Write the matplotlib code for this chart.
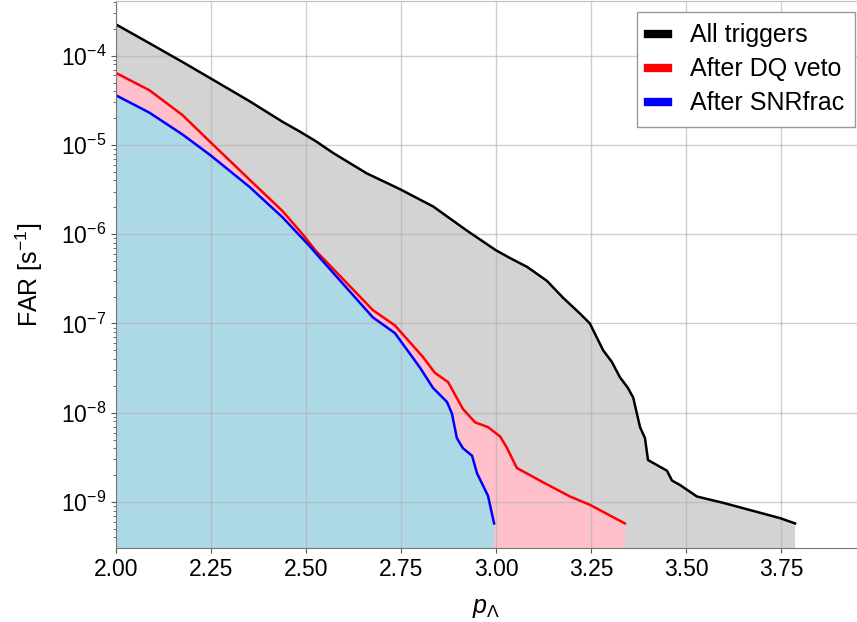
import matplotlib
matplotlib.use("Agg")
import matplotlib.pyplot as plt
from matplotlib.lines import Line2D
from matplotlib.ticker import NullFormatter, FixedLocator, LogLocator

plt.rcParams['font.family'] = ['Liberation Sans', 'DejaVu Sans']
plt.rcParams['mathtext.fontset'] = 'custom'
plt.rcParams['mathtext.rm'] = 'Liberation Sans'
plt.rcParams['mathtext.it'] = 'Liberation Sans:italic'

x_all = [2.0, 2.088, 2.175, 2.248, 2.351, 2.438, 2.484, 2.526, 2.572, 2.66, 2.747,
         2.835, 2.923, 3.0, 3.037, 3.082, 3.134, 3.176, 3.221, 3.247, 3.282,
         3.305, 3.326, 3.347, 3.361, 3.379, 3.392, 3.4, 3.45, 3.463, 3.484,
         3.529, 3.597, 3.747, 3.787]
far_all = [2.24e-4, 1.38e-4, 8.5e-5, 5.6e-5, 3.1e-5, 1.82e-5, 1.41e-5, 1.10e-5,
           8.1e-6, 4.8e-6, 3.2e-6, 2.04e-6, 1.10e-6, 6.6e-7, 5.4e-7, 4.3e-7,
           3.0e-7, 1.95e-7, 1.29e-7, 1.0e-7, 5.0e-8, 3.7e-8, 2.5e-8, 1.9e-8,
           1.48e-8, 6.9e-9, 5.2e-9, 2.95e-9, 2.24e-9, 1.74e-9, 1.55e-9, 1.15e-9,
           9.8e-10, 6.6e-10, 5.75e-10]

x_dq = [2.0, 2.088, 2.175, 2.248, 2.351, 2.438, 2.491, 2.526, 2.676, 2.734,
        2.808, 2.839, 2.874, 2.913, 2.945, 2.979, 3.011, 3.028, 3.055, 3.124,
        3.195, 3.247, 3.339]
far_dq = [6.4e-5, 4.1e-5, 2.16e-5, 1.08e-5, 4.1e-6, 1.82e-6, 1.0e-6, 6.5e-7,
          1.41e-7, 9.5e-8, 4.2e-8, 2.8e-8, 2.2e-8, 1.1e-8, 7.8e-9, 6.9e-9,
          5.4e-9, 4.1e-9, 2.4e-9, 1.66e-9, 1.15e-9, 9.3e-10, 5.75e-10]

x_snr = [2.0, 2.088, 2.175, 2.248, 2.351, 2.438, 2.509, 2.537, 2.676, 2.734,
         2.8, 2.834, 2.871, 2.884, 2.897, 2.913, 2.937, 2.95, 2.979, 2.995]
far_snr = [3.6e-5, 2.3e-5, 1.31e-5, 7.7e-6, 3.4e-6, 1.55e-6, 7.4e-7, 5.4e-7,
           1.17e-7, 7.8e-8, 3.2e-8, 1.9e-8, 1.32e-8, 9.8e-9, 5.2e-9, 4.0e-9,
           3.3e-9, 2.1e-9, 1.17e-9, 5.75e-10]

labels = ["All triggers", "After DQ veto", "After SNRfrac"]
line_colors = ["black", "red", "blue"]
fill_colors = ["lightgrey", "pink", "lightblue"]

y_ticks = [1e-9, 1e-8, 1e-7, 1e-6, 1e-5, 1e-4]
y_ticklabels = [r"$10^{-9}$", r"$10^{-8}$", r"$10^{-7}$", r"$10^{-6}$",
                r"$10^{-5}$", r"$10^{-4}$"]
x_ticks = [2.0, 2.25, 2.5, 2.75, 3.0, 3.25, 3.5, 3.75]
x_ticklabels = ["2.00", "2.25", "2.50", "2.75", "3.00", "3.25", "3.50", "3.75"]

ymin, ymax = 3.05e-10, 4.1e-4

fig = plt.figure(figsize=(8.57, 6.22), dpi=100)
ax = fig.add_axes([116/857, 74/622, (857-116)/857, (621-74)/622])

series = [(x_all, far_all), (x_dq, far_dq), (x_snr, far_snr)]
for (xs, ys), fc in zip(series, fill_colors):
    ax.fill_between(xs, ys, 1e-12, color=fc, linewidth=0)
for (xs, ys), lc in zip(series, line_colors):
    ax.plot(xs, ys, color=lc, lw=1.8)

ax.set_yscale('log')
ax.set_xlim(2.0, 2.0 + (857-116)/380)
ax.set_ylim(ymin, ymax)
ax.set_yticks(y_ticks)
ax.set_yticklabels(y_ticklabels)
ax.yaxis.set_minor_locator(LogLocator(base=10, subs=range(2, 10), numticks=20))
ax.yaxis.set_minor_formatter(NullFormatter())
ax.set_xticks(x_ticks)
ax.set_xticklabels(x_ticklabels)
ax.grid(True, which='major', color='#b0b0b0', alpha=0.6, lw=1)
ax.tick_params(axis='both', labelsize=16.5, color='#555555')
ax.tick_params(which='minor', color='#555555')
for s in ['left', 'bottom']:
    ax.spines[s].set_color('#777777')
ax.spines['top'].set_color('#bbbbbb')
ax.spines['right'].set_visible(False)

ax.set_xlabel(r"$p_{\Lambda}$", fontsize=18, labelpad=11)
ax.set_ylabel(r"FAR [s$^{-1}$]", fontsize=18, labelpad=11)

handles = [Line2D([], [], color=c, lw=6) for c in line_colors]
leg = ax.legend(handles, labels, loc='upper right', fontsize=18,
                bbox_to_anchor=(855/857, 610/622), bbox_transform=fig.transFigure,
                borderaxespad=0, fancybox=False, handlelength=0.8,
                handletextpad=0.85, labelspacing=0.4, borderpad=0.45,
                framealpha=1, edgecolor='#999999')

fig.savefig("out.png", dpi=100)
